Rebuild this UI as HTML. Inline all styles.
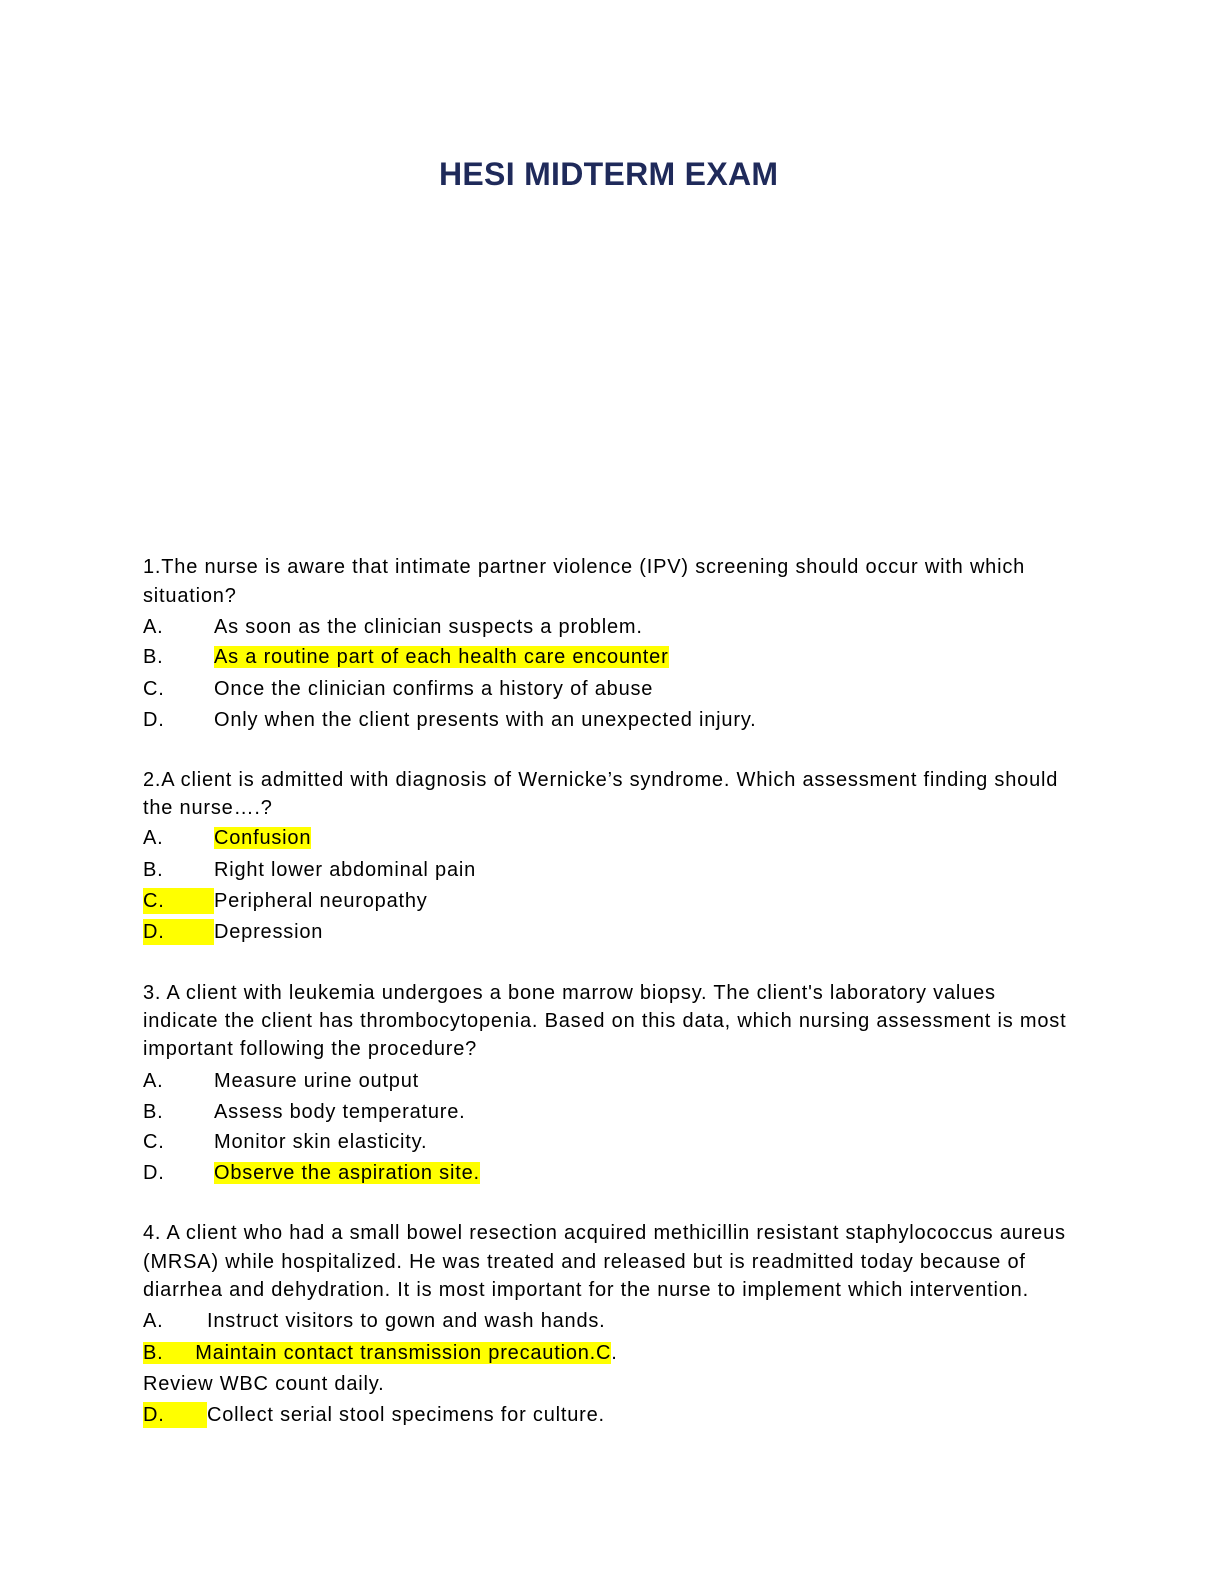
<!DOCTYPE html>
<html><head><meta charset="utf-8"><style>
body{margin:0;background:#fff;}
.p{position:relative;width:1224px;height:1584px;overflow:hidden;background:#fff;}
.t{position:absolute;left:439px;top:156px;font:bold 32px "Liberation Sans",sans-serif;color:#1f2a5a;letter-spacing:0.3px;}
.l{position:absolute;left:143px;font:20px/26px "Liberation Sans",sans-serif;color:#000;white-space:nowrap;letter-spacing:0.8px;}
.l b{font-weight:normal;position:absolute;left:71px;top:0;}
.h{background:#ffff00;}
.x{display:inline-block;}
</style></head><body><div class="p">
<div class="t">HESI MIDTERM EXAM</div>

<div class="l" style="top:554px">1.The nurse is aware that intimate partner violence (IPV) screening should occur with which</div>
<div class="l" style="top:583px">situation?</div>
<div class="l" style="top:614px">A.<b>As soon as the clinician suspects a problem.</b></div>
<div class="l" style="top:644px">B.<b><span class="h">As a routine part of each health care encounter</span></b></div>
<div class="l" style="top:676px">C.<b>Once the clinician confirms a history of abuse</b></div>
<div class="l" style="top:707px">D.<b>Only when the client presents with an unexpected injury.</b></div>

<div class="l" style="top:767px">2.A client is admitted with diagnosis of Wernicke’s syndrome. Which assessment finding should</div>
<div class="l" style="top:795px">the nurse….?</div>
<div class="l" style="top:825px">A.<b><span class="h">Confusion</span></b></div>
<div class="l" style="top:857px">B.<b>Right lower abdominal pain</b></div>
<div class="l" style="top:888px"><span class="h x" style="width:71px">C.</span><b>Peripheral neuropathy</b></div>
<div class="l" style="top:919px"><span class="h x" style="width:71px">D.</span><b>Depression</b></div>

<div class="l" style="top:980px">3. A client with leukemia undergoes a bone marrow biopsy. The client's laboratory values</div>
<div class="l" style="top:1008px">indicate the client has thrombocytopenia. Based on this data, which nursing assessment is most</div>
<div class="l" style="top:1036px">important following the procedure?</div>
<div class="l" style="top:1068px">A.<b>Measure urine output</b></div>
<div class="l" style="top:1099px">B.<b>Assess body temperature.</b></div>
<div class="l" style="top:1129px">C.<b>Monitor skin elasticity.</b></div>
<div class="l" style="top:1160px">D.<b><span class="h">Observe the aspiration site.</span></b></div>

<div class="l" style="top:1220px">4. A client who had a small bowel resection acquired methicillin resistant staphylococcus aureus</div>
<div class="l" style="top:1249px">(MRSA) while hospitalized. He was treated and released but is readmitted today because of</div>
<div class="l" style="top:1277px">diarrhea and dehydration. It is most important for the nurse to implement which intervention.</div>
<div class="l" style="top:1308px">A.<b style="left:64px">Instruct visitors to gown and wash hands.</b></div>
<div class="l" style="top:1340px"><span class="h">B.&nbsp;&nbsp;&nbsp;&nbsp;&nbsp;Maintain contact transmission precaution.C</span>.</div>
<div class="l" style="top:1371px">Review WBC count daily.</div>
<div class="l" style="top:1402px"><span class="h x" style="width:64px">D.</span><b style="left:64px">Collect serial stool specimens for culture.</b></div>
</div></body></html>
